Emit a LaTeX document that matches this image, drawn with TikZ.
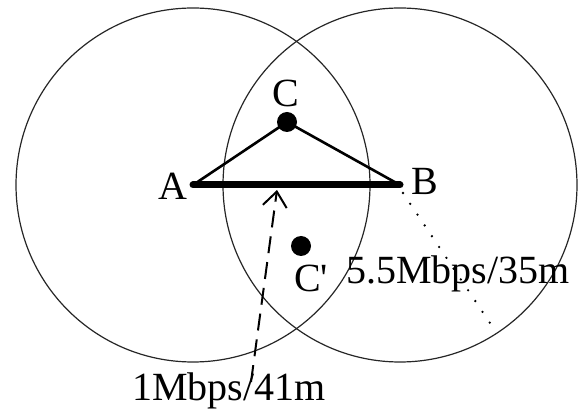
\documentclass[tikz,border=0pt]{standalone}
\usepackage{fontspec}
\setmainfont{Liberation Serif}
\usetikzlibrary{arrows.meta}

\begin{document}
\begin{tikzpicture}[
    x=1pt,y=-1pt,
    cover/.style={draw=black!85,line width=1.2pt},
    link/.style={line width=2.6pt,line cap=round},
    mainlink/.style={line width=7pt,line cap=round},
    dot/.style={circle,fill=black,inner sep=0pt,minimum size=20pt},
    lbl/.style={inner sep=0pt,font=\fontsize{40}{44}\selectfont},
    rate/.style={line width=2pt,dash pattern=on 17pt off 9pt},
    far/.style={line width=2.6pt,line cap=round,dash pattern=on 0pt off 13pt}
  ]
    \useasboundingbox (0,0) rectangle (581,411);

    \coordinate (A) at (193,185);
    \coordinate (B) at (400,185);
    \node[dot] (C) at (287,122) {};
    \node[dot] (Cp) at (301,246) {};

    % transmission ranges
    \draw[cover] (A) circle (177);
    \draw[cover] (B) circle (177);

    \draw[mainlink] (A) -- (B);
    \draw[link] (A) -- (C.center) -- (B);

    \node[lbl,anchor=base east] (lA) at (188,200) {A};
    \node[lbl,anchor=base west] (lB) at (411,195) {B};
    \node[lbl,anchor=base] (lC) at (286,107) {C};
    \node[lbl,anchor=base west] (lCp) at (294,292) {C\textquotesingle};
    \node[lbl,anchor=base west] (fast) at (346,284) {5.5Mbps/35m};
    \node[lbl,anchor=base west] (slow) at (132,401) {1Mbps/41m};

    \coordinate (tip) at (277,190);
    \coordinate (tail) at (251,382);
    \coordinate (edge) at (490,323);
    \draw[rate,-{Straight Barb[length=15pt,width=24pt,line width=2pt]}] (tail) -- (tip);
    \draw[far] (B) ++(3,8) -- (edge);
  \end{tikzpicture}
\end{document}
